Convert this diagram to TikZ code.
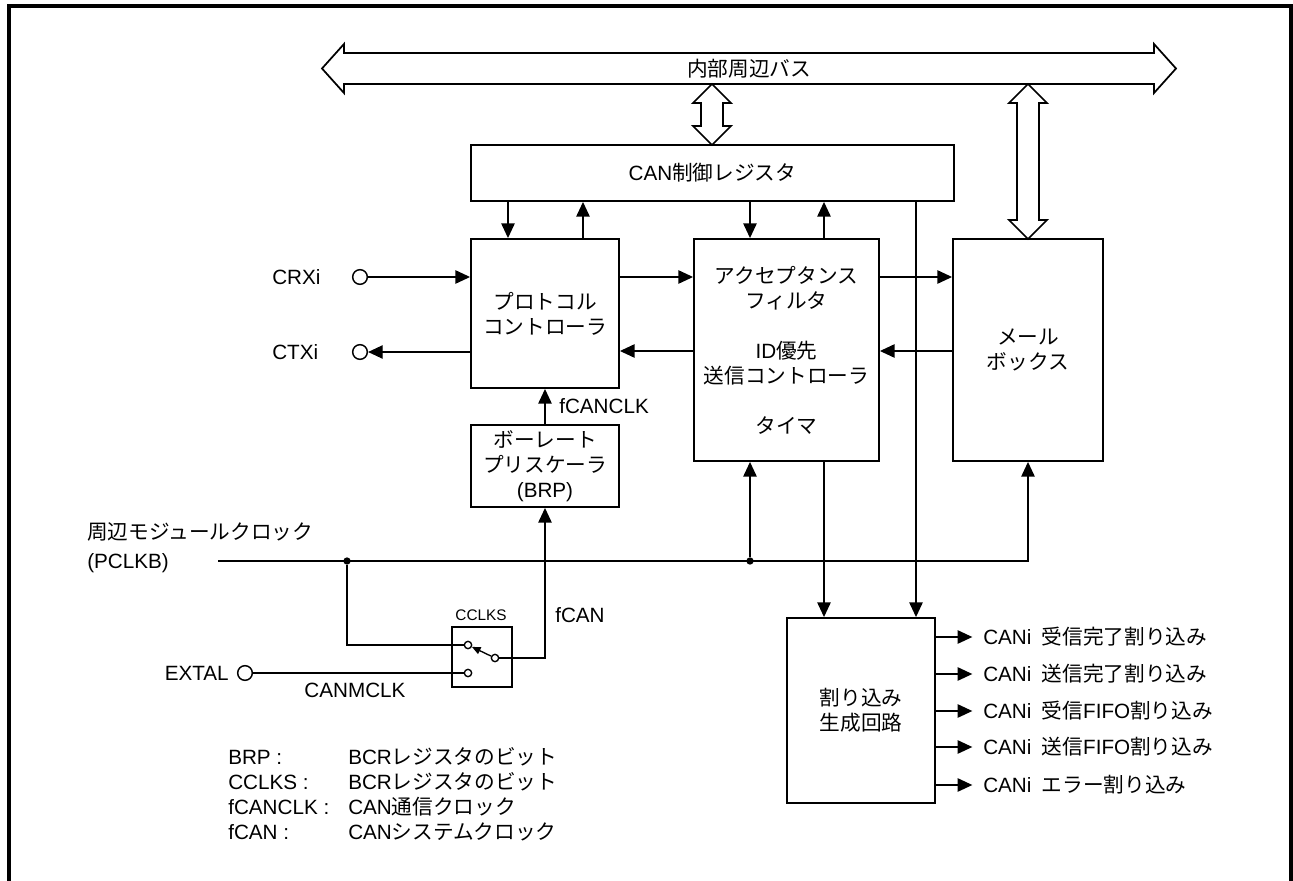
\documentclass[tikz,border=0pt]{standalone}
\usepackage{fontspec}
\setmainfont{Liberation Sans}
\newfontfamily\jp{Noto Sans CJK JP}
\usetikzlibrary{arrows.meta}
\begin{document}
\begin{tikzpicture}[x=0.75pt,y=-0.75pt,
  font=\fontsize{15.5}{18.75}\selectfont,
  box/.style={draw,line width=1.4pt,inner sep=0pt,align=center},
  arr/.style={line width=1.1pt,-{Triangle[length=11pt,width=10pt]}},
  wire/.style={line width=1.1pt},
  term/.style={draw,circle,line width=1.1pt,minimum size=11pt,inner sep=0pt},
  contact/.style={draw,circle,line width=1pt,minimum size=5.5pt,inner sep=0pt,fill=white},
  jdot/.style={circle,fill,minimum size=5.5pt,inner sep=0pt},
  lbl/.style={inner sep=0pt},
  busarrow/.style={draw,line width=1.3pt,line join=miter}]
\useasboundingbox (0,0) rectangle (1293,881);
% outer frame (open at bottom)
\draw[line width=2.3pt] (9,881) -- (9,6) -- (1291,6) -- (1291,881);

% internal bus
\draw[busarrow] (322,68.5) -- (344,44) -- (344,53) -- (1154,53) -- (1154,44) -- (1176,68.5)
  -- (1154,93) -- (1154,84) -- (344,84) -- (344,93) -- cycle;
\node[lbl] (bus) at (749,68.5) {{\jp 内部周辺バス}};

% blocks
\node[box,minimum width=362.25pt,minimum height=42pt] (reg) at (712.5,173) {CAN{\jp 制御レジスタ}};
\node[box,minimum width=111pt,minimum height=111.75pt] (proto) at (545,313.5) {{\jp プロトコル}\\{\jp コントローラ}};
\node[box,minimum width=138.75pt,minimum height=166.5pt] (acc) at (786.5,350)
  {{\jp アクセプタンス}\\{\jp フィルタ}\\[18.75pt]ID{\jp 優先}\\{\jp 送信コントローラ}\\[18.75pt]{\jp タイマ}};
\node[box,minimum width=112.5pt,minimum height=166.5pt] (mail) at (1028,350) {{\jp メール}\\{\jp ボックス}};
\node[box,minimum width=111pt,minimum height=61.5pt] (brp) at (545,466) {{\jp ボーレート}\\{\jp プリスケーラ}\\(BRP)};
\node[box,minimum width=45pt,minimum height=45pt] (sw) at (482,657) {};
\node[box,minimum width=111pt,minimum height=138.75pt] (int) at (861,710.5) {{\jp 割り込み}\\{\jp 生成回路}};

% bus connections (double arrows)
\draw[busarrow] (712,84) -- (731,103) -- (723,103) -- (723,126) -- (731,126) -- (712,145)
  -- (693,126) -- (701,126) -- (701,103) -- (693,103) -- cycle;
\draw[busarrow] (1028,84) -- (1047,103) -- (1039,103) -- (1039,220) -- (1047,220) -- (1028,239)
  -- (1009,220) -- (1017,220) -- (1017,103) -- (1009,103) -- cycle;

% helper coordinates
\coordinate (xa) at (508,0);
\coordinate (xb) at (583,0);
\coordinate (xc) at (750,0);
\coordinate (xd) at (824,0);
\coordinate (xe) at (916,0);
\coordinate (r1) at (0,277);
\coordinate (r2) at (0,351);

% register <-> blocks
\draw[arr] (reg.south -| xa) -- (proto.north -| xa);
\draw[arr] (proto.north -| xb) -- (reg.south -| xb);
\draw[arr] (reg.south -| xc) -- (acc.north -| xc);
\draw[arr] (acc.north -| xd) -- (reg.south -| xd);
\draw[arr] (reg.south -| xe) -- (int.north -| xe);

% horizontal data paths
\draw[arr] (proto.east |- r1) -- (acc.west |- r1);
\draw[arr] (acc.west |- r2) -- (proto.east |- r2);
\draw[arr] (acc.east |- r1) -- (mail.west |- r1);
\draw[arr] (mail.west |- r2) -- (acc.east |- r2);

% pins
\node[term] (crx) at (360,277) {};
\node[lbl,anchor=west] (crxl) at (272,277) {CRXi};
\node[term] (ctx) at (360,352) {};
\node[lbl,anchor=west] (ctxl) at (272,352) {CTXi};
\draw[arr] (crx.east) -- (proto.west |- crx);
\draw[arr] (proto.west |- ctx) -- (ctx.east);

% baud rate prescaler
\draw[arr] (brp.north) -- (proto.south);
\node[lbl,anchor=west] (fcanclk) at (559,406) {fCANCLK};

% peripheral clock
\node[lbl,anchor=west] (pclk) at (87,532) {{\jp 周辺モジュールクロック}};
\node[lbl,anchor=west] (pclkb) at (87,563) {(PCLKB)};
\coordinate (pstart) at (218,561);
\node[jdot] (j1) at (347,561) {};
\node[jdot] (j2) at (750,561) {};
\draw[arr] (pstart) -| (mail.south);
\draw[arr] (j2) -- (acc.south -| j2);

% clock select switch
\node[lbl,font=\fontsize{11.5}{13}\selectfont] (cclks) at (481,615) {CCLKS};
\node[contact] (su) at (468,645) {};
\node[contact] (sl) at (468,673) {};
\node[contact] (sc) at (495,658) {};
\draw[wire] (j1) |- (su.west);
\draw[line width=1pt,-{Triangle[length=6.5pt,width=5.5pt]}] (sc) -- (su);
\draw[arr] (sc.east) -| (brp.south);
\node[lbl,anchor=west] (fcan) at (555,615) {fCAN};
\node[term] (ext) at (245,673) {};
\node[lbl,anchor=east] (extl) at (229,673) {EXTAL};
\draw[wire] (ext.east) -- (sl.west);
\node[lbl] (canmclk) at (355,690) {CANMCLK};

% acceptance filter -> interrupt
\draw[arr] (acc.south -| xd) -- (int.north -| xd);

% interrupt outputs
\node[lbl,anchor=west] (o1) at (983,637) {CANi\hspace{0.5em}{\jp 受信完了割り込み}};
\node[lbl,anchor=west] (o2) at (983,674) {CANi\hspace{0.5em}{\jp 送信完了割り込み}};
\node[lbl,anchor=west] (o3) at (983,711) {CANi\hspace{0.5em}{\jp 受信}FIFO{\jp 割り込み}};
\node[lbl,anchor=west] (o4) at (983,747) {CANi\hspace{0.5em}{\jp 送信}FIFO{\jp 割り込み}};
\node[lbl,anchor=west] (o5) at (983,785) {CANi\hspace{0.5em}{\jp エラー割り込み}};
\foreach \o in {o1,o2,o3,o4,o5}
  \draw[arr] (int.east |- \o.west) -- ([xshift=-8pt]\o.west);

% legend
\node[lbl,anchor=west] (k1) at (228,757) {BRP :};
\node[lbl,anchor=west] (k2) at (228,782) {CCLKS :};
\node[lbl,anchor=west] (k3) at (228,807) {fCANCLK :};
\node[lbl,anchor=west] (k4) at (228,832) {fCAN :};
\node[lbl,anchor=west] (v1) at (348,757) {BCR{\jp レジスタのビット}};
\node[lbl,anchor=west] (v2) at (348,782) {BCR{\jp レジスタのビット}};
\node[lbl,anchor=west] (v3) at (348,807) {CAN{\jp 通信クロック}};
\node[lbl,anchor=west] (v4) at (348,832) {CAN{\jp システムクロック}};
\end{tikzpicture}
\end{document}
